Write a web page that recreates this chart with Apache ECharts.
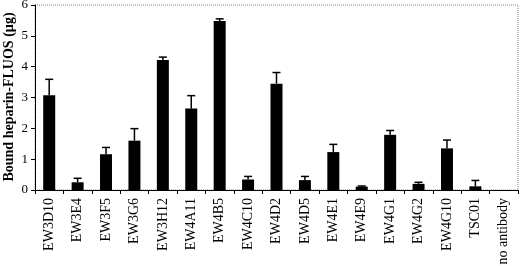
<!DOCTYPE html>
<html><head><meta charset="utf-8">
<script src="https://cdn.jsdelivr.net/npm/echarts@6/dist/echarts.min.js"></script>
<style>html,body{margin:0;padding:0;background:#fff}#c{width:520px;height:266px}</style>
</head><body><div id="c"></div>
<script>
var categories = ['EW3D10','EW3E4','EW3F5','EW3G6','EW3H12','EW4A11','EW4B5','EW4C10','EW4D2','EW4D5','EW4E1','EW4E9','EW4G1','EW4G2','EW4G10','TSC01','no antibody'];
var values = [3.07,0.25,1.16,1.60,4.22,2.64,5.48,0.34,3.45,0.32,1.23,0.11,1.79,0.20,1.35,0.12,0];
var errors = [0.52,0.13,0.22,0.39,0.09,0.42,0.07,0.10,0.36,0.12,0.25,0.02,0.14,0.05,0.27,0.19,0];
var yTicks = [0,1,2,3,4,5,6];
var yTitle = 'Bound heparin-FLUOS (µg)';

var chart = echarts.init(document.getElementById('c'));
var serif = '"Liberation Serif", "Times New Roman", serif';
chart.setOption({
  animation:false,
  grid:{left:35,right:2,top:5,bottom:76,show:true,borderColor:'#888',borderWidth:1,borderType:'dotted',
        containLabel:false,outerBoundsMode:'none'},
  graphic:[{type:'text',x:9,y:97,rotation:Math.PI/2,
    style:{text:yTitle,align:'center',verticalAlign:'middle',
      font:'bold 14px "Liberation Serif", "Times New Roman", serif',fill:'#000'}}],
  xAxis:{type:'category',data:categories,
    axisLine:{lineStyle:{color:'#000',width:1}},
    axisTick:{show:true,length:4,lineStyle:{color:'#000'}},
    axisLabel:{rotate:90,interval:0,fontFamily:serif,fontSize:14,color:'#000',margin:8}},
  yAxis:{type:'value',min:0,max:6,interval:1,
    axisLine:{show:true,lineStyle:{color:'#000',width:1}},
    axisTick:{show:true,length:4,lineStyle:{color:'#000'}},
    axisLabel:{fontFamily:serif,fontSize:13,color:'#000',margin:7,
      formatter:function(v){return yTicks.indexOf(v)>=0?String(v):'';}},
    splitLine:{show:false}},
  series:[
    {type:'bar',data:values,barWidth:12,itemStyle:{color:'#000'},z:2},
    {type:'custom',z:3,data:values.map(function(v,i){return [i,v,v+errors[i]];}),
     renderItem:function(params,api){
       if(api.value(2)-api.value(1)<=0) return;
       var p0=api.coord([api.value(0),api.value(1)]);
       var p1=api.coord([api.value(0),api.value(2)]);
       var st={stroke:'#000',lineWidth:1.5};
       return {type:'group',children:[
         {type:'line',shape:{x1:p0[0],y1:p0[1],x2:p1[0],y2:p1[1]},style:st},
         {type:'line',shape:{x1:p1[0]-4,y1:p1[1],x2:p1[0]+4,y2:p1[1]},style:st}
       ]};
     }}
  ]
});
</script></body></html>
